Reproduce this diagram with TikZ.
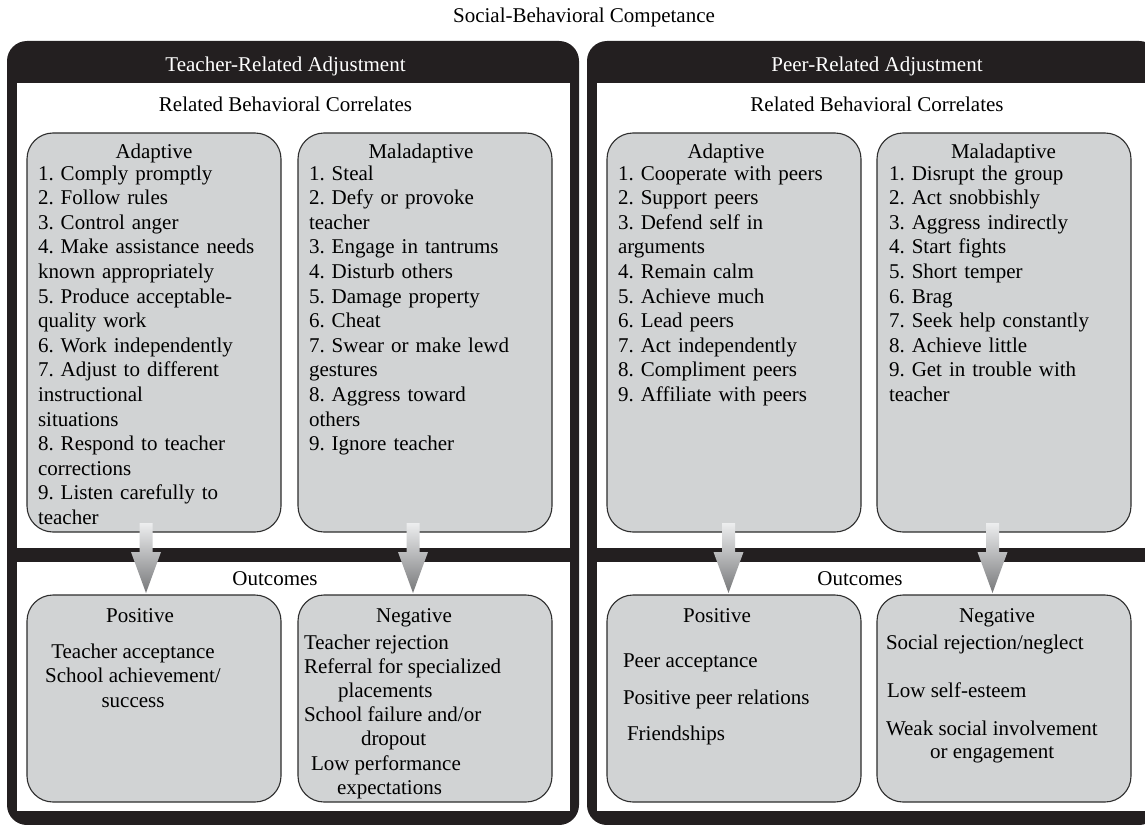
\documentclass[tikz,border=0pt]{standalone}
\usepackage{fontspec}
\setmainfont{Liberation Serif}
\usetikzlibrary{calc}
\frenchspacing

\definecolor{ink}{HTML}{231F20}
\definecolor{cardfill}{HTML}{D1D3D4}
\definecolor{cardline}{HTML}{2E2E2E}
\definecolor{arrowtop}{HTML}{EDEEEF}
\definecolor{arrowbot}{HTML}{77787A}

% thick shaded down-arrow between two cards
\newcommand\flowarrow[3]{%
  \shade[top color=arrowtop,bottom color=arrowbot]
    let \p1=($(#1.south)+(#3,-9)$), \p2=($(#2.north)+(#3,-2)$) in
    (\x1-6.5pt,\y1) -- (\x1+6.5pt,\y1) -- (\x1+6.5pt,\y2+41pt)
    -- (\x1+15pt,\y2+41pt) -- (\x1,\y2) -- (\x1-15pt,\y2+41pt)
    -- (\x1-6.5pt,\y2+41pt) -- cycle;}

\begin{document}
\begin{tikzpicture}[x=1pt,y=-1pt,
  every node/.style={inner sep=0pt,outer sep=0pt,font=\fontsize{21}{24.6}\selectfont},
  panel/.style={fill=ink,rounded corners=20pt},
  pane/.style={fill=white},
  card/.style={draw=cardline,line width=1.1pt,fill=cardfill,rounded corners=26pt,
    anchor=north west,minimum width=254pt},
  topcard/.style={card,minimum height=399pt},
  outcard/.style={card,minimum height=207pt},
  hdr/.style={text=white,anchor=base},
  lbl/.style={anchor=base},
  line/.style={anchor=base west},
  list/.style={anchor=base west,align=left,text width=248pt},
]
\useasboundingbox (0,0) rectangle (1145,824);
\clip (0,0) rectangle (1145,824);

% title
\node[lbl] (title) at (584,23) {Social-Behavioral Competance};

% the two black frames with their white panes
\fill[panel] (7,41) rectangle (579,825);
\fill[panel] (587,41) rectangle (1159,825);
\fill[pane] (17,83) rectangle (570,548);
\fill[pane] (17,562) rectangle (570,811);
\fill[pane] (597,83) rectangle (1150,548);
\fill[pane] (597,562) rectangle (1150,811);

% headings
\node[hdr] (teachHdr) at (285.5,72) {Teacher-Related Adjustment};
\node[hdr] (peerHdr) at (877,72) {Peer-Related Adjustment};
\node[lbl] (teachCorr) at (285.5,112) {Related Behavioral Correlates};
\node[lbl] (peerCorr) at (877,112) {Related Behavioral Correlates};
\node[lbl] (teachOut) at (275,585) {Outcomes};
\node[lbl] (peerOut) at (860,585) {Outcomes};

% cards
\node[topcard] (adaptL) at (27,133) {};
\node[topcard] (malL) at (298,133) {};
\node[topcard] (adaptR) at (607,133) {};
\node[topcard] (malR) at (877,133) {};
\node[outcard] (posL) at (27,595) {};
\node[outcard] (negL) at (298,595) {};
\node[outcard] (posR) at (607,595) {};
\node[outcard] (negR) at (877,595) {};

% card titles
\node[lbl] (adaptLt) at (154,158) {Adaptive};
\node[lbl] (malLt) at (421,158) {Maladaptive};
\node[lbl] (adaptRt) at (726,158) {Adaptive};
\node[lbl] (malRt) at (1003.5,158) {Maladaptive};
\node[lbl] (posLt) at (140,622) {Positive};
\node[lbl] (negLt) at (414,622) {Negative};
\node[lbl] (posRt) at (717,622) {Positive};
\node[lbl] (negRt) at (997,622) {Negative};

% behaviour lists
\node[list] (adaptLl) at (38,180) {1. Comply promptly\\2. Follow rules\\3. Control anger\\
  4. Make assistance needs\\known appropriately\\5. Produce acceptable-\\quality work\\
  6. Work independently\\7. Adjust to different\\instructional\\situations\\
  8. Respond to teacher\\corrections\\9. Listen carefully to\\teacher};
\node[list] (malLl) at (309,180) {1. Steal\\2. Defy or provoke\\teacher\\3. Engage in tantrums\\
  4. Disturb others\\5. Damage property\\6. Cheat\\7. Swear or make lewd\\gestures\\
  8. Aggress toward\\others\\9. Ignore teacher};
\node[list] (adaptRl) at (618,180) {1. Cooperate with peers\\2. Support peers\\3. Defend self in\\
  arguments\\4. Remain calm\\5. Achieve much\\6. Lead peers\\7. Act independently\\
  8. Compliment peers\\9. Affiliate with peers};
\node[list] (malRl) at (889,180) {1. Disrupt the group\\2. Act snobbishly\\3. Aggress indirectly\\
  4. Start fights\\5. Short temper\\6. Brag\\7. Seek help constantly\\8. Achieve little\\
  9. Get in trouble with\\teacher};

% outcome texts
\node[lbl] (posL1) at (133,658) {Teacher acceptance};
\node[lbl] (posL2) at (133,682) {School achievement/};
\node[lbl] (posL3) at (133,707) {success};

\node[line] (negL1) at (304,649) {Teacher rejection};
\node[line] (negL2) at (304,673) {Referral for specialized};
\node[line] (negL3) at (338,697) {placements};
\node[line] (negL4) at (304,721) {School failure and/or};
\node[line] (negL5) at (361,745) {dropout};
\node[line] (negL6) at (311,770) {Low performance};
\node[line] (negL7) at (337,794) {expectations};

\node[line] (posR1) at (623,667) {Peer acceptance};
\node[line] (posR2) at (623,704) {Positive peer relations};
\node[line] (posR3) at (627,740) {Friendships};

\node[line] (negR1) at (886,649) {Social rejection/neglect};
\node[line] (negR2) at (887,697) {Low self-esteem};
\node[line] (negR3) at (886,735) {Weak social involvement};
\node[line] (negR4) at (930,758) {or engagement};

% arrows from correlates to outcomes
\flowarrow{adaptL}{posL}{-8}
\flowarrow{malL}{negL}{-12}
\flowarrow{adaptR}{posR}{-5.5}
\flowarrow{malR}{negR}{-11.5}
\end{tikzpicture}
\end{document}
